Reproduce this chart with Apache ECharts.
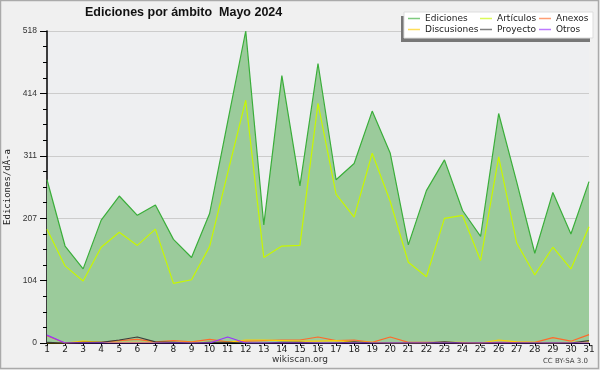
<!DOCTYPE html>
<html>
<head>
<meta charset="utf-8">
<script src="https://cdn.jsdelivr.net/npm/echarts@6/dist/echarts.min.js"></script>
<style>
html,body{margin:0;padding:0;background:#f0f0f0;}
#c{width:600px;height:370px;}
</style>
</head>
<body>
<div id="c"></div>
<script>
const days = ['1','2','3','4','5','6','7','8','9','10','11','12','13','14','15','16','17','18','19','20','21','22','23','24','25','26','27','28','29','30','31'];
const ediciones = [271,161,123,204,244,212,229,172,142,215,367,518,196,444,261,464,271,298,385,315,163,253,304,220,177,381,267,149,250,181,268];
const articulos = [189,128,103,159,184,162,189,99,105,160,282,403,142,161,162,398,247,209,315,235,134,110,207,212,137,309,166,113,159,123,193];
const anexos = [12,0,1,1,4,6,2,4,2,6,2,3,4,5,5,10,4,5,1,10,1,1,1,0,0,1,1,1,9,3,14];
const discusiones = [0,0,3,1,1,1,1,1,1,1,1,5,5,4,3,3,4,2,1,0,0,0,1,1,0,5,2,1,0,1,2];
const proyecto = [1,0,1,1,5,10,2,1,0,1,1,0,0,1,1,0,0,2,0,0,0,0,2,0,0,0,0,0,0,0,4];
const otros = [13,0,0,0,0,0,0,0,0,0,10,0,0,0,0,0,0,0,0,0,0,0,0,0,0,0,0,0,0,0,0];
const yMax = 518;
const yStep = 103.6;

const chart = echarts.init(document.getElementById('c'), null, {renderer:'canvas'});
const lineSeries = (name, data, color, z) => ({
  name, type:'line', data, symbol:'none', z,
  lineStyle:{color, width:1.2}, itemStyle:{color}, animation:false
});
const legendBase = {
  orient:'vertical', top:13, padding:0, itemGap:0, icon:'rect', z:50,
  itemWidth:12, itemHeight:1.5,
  itemStyle:{opacity:0.65},
  textStyle:{fontFamily:'DejaVu Sans', fontSize:9, color:'#222', lineHeight:11}
};
chart.setOption({
  backgroundColor:'#f0f0f0',
  animation:false,
  title:{text:'Ediciones por ámbito  Mayo 2024', left:85, top:6, padding:0,
    textStyle:{fontFamily:'Liberation Sans', fontWeight:'bold', fontSize:12.5, color:'#111'}},
  grid:{left:47, right:11, top:31, bottom:27, show:true, backgroundColor:'#eeeff1', borderWidth:0,
    containLabel:false, outerBoundsMode:'none'},
  legend:[
    Object.assign({}, legendBase, {left:408, data:['Ediciones','Discusiones']}),
    Object.assign({}, legendBase, {left:480, data:['Artículos','Proyecto']}),
    Object.assign({}, legendBase, {left:539, data:['Anexos','Otros']})
  ],
  xAxis:{type:'category', data:days, boundaryGap:false,
    axisLine:{lineStyle:{color:'#000', width:1}},
    axisTick:{show:true, length:3, lineStyle:{color:'#000'}},
    axisLabel:{interval:0, fontFamily:'DejaVu Sans', fontSize:9, color:'#222', margin:2},
    splitLine:{show:false}},
  yAxis:{type:'value', min:0, max:yMax, interval:yStep,
    name:'Ediciones/dÃ-a', nameLocation:'middle', nameGap:32, nameRotate:90,
    nameTextStyle:{fontFamily:'DejaVu Sans Mono', fontSize:9, color:'#222'},
    axisLine:{show:true, lineStyle:{color:'#000', width:1.5}},
    axisTick:{show:true, length:7, lineStyle:{color:'#000'}},
    minorTick:{show:true, splitNumber:4, length:4, lineStyle:{color:'#000'}},
    axisLabel:{fontFamily:'Liberation Sans', fontSize:8.5, color:'#333', margin:10,
      formatter:v=>String(Math.round(v))},
    splitLine:{show:true, lineStyle:{color:'#cccccc', width:1}}},
  series:[
    Object.assign(lineSeries('Ediciones', ediciones, '#3aae3a', 2), {areaStyle:{color:'#9bcb9b', opacity:1}}),
    lineSeries('Artículos', articulos, '#c8f700', 3),
    lineSeries('Anexos', anexos, '#ff6a2a', 4),
    lineSeries('Discusiones', discusiones, '#ffcc00', 4),
    lineSeries('Proyecto', proyecto, '#3c3c3c', 4),
    lineSeries('Otros', otros, '#9933ff', 4)
  ],
  graphic:[
    {type:'rect', silent:true, z:-1, shape:{x:0.5,y:0.5,width:598,height:368}, style:{fill:'none', stroke:'#aaaaaa', lineWidth:1.5}},
    {type:'rect', silent:true, z:9, shape:{x:401,y:16,width:189,height:26}, style:{fill:'#777777'}},
    {type:'rect', silent:true, z:10, shape:{x:404,y:12,width:189,height:26}, style:{fill:'#ffffff', stroke:'#dddddd', lineWidth:1}},
    {type:'text', silent:true, z:10, left:'center', top:355, style:{text:'wikiscan.org', fontFamily:'DejaVu Sans', fontSize:9, fill:'#333'}},
    {type:'text', silent:true, z:10, right:12, top:358, style:{text:'CC BY-SA 3.0', fontFamily:'DejaVu Sans', fontSize:7, fill:'#444'}}
  ]
});
</script>
</body>
</html>
